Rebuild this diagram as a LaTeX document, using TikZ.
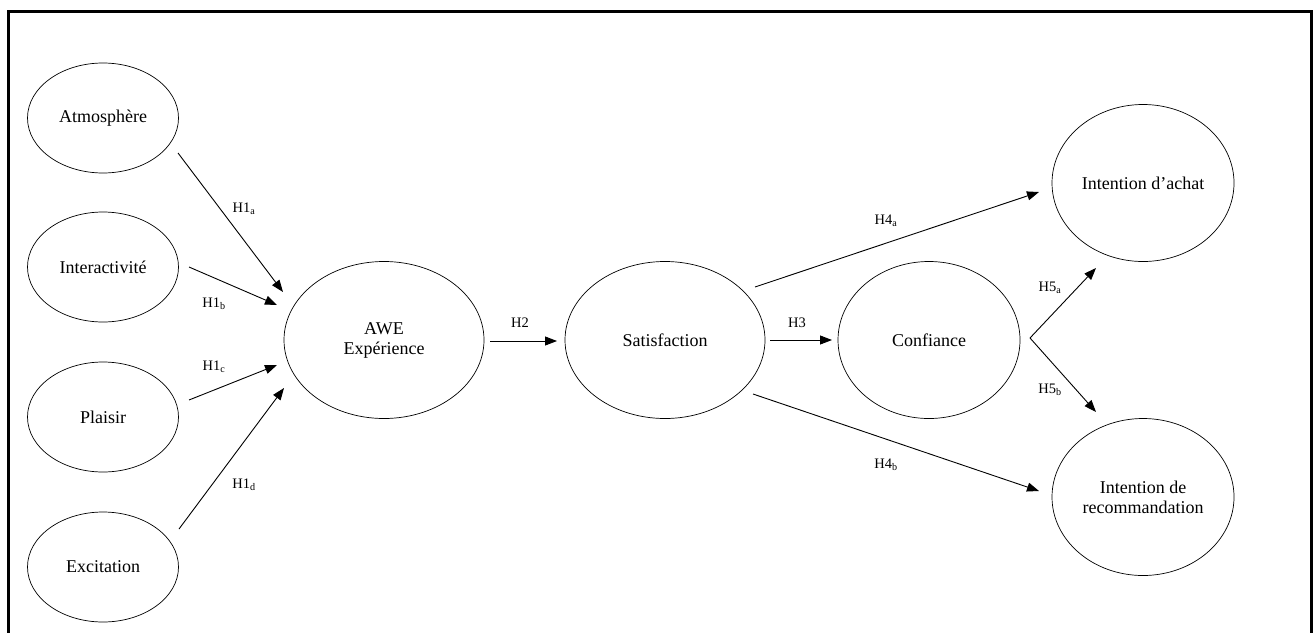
\documentclass[tikz,border=0pt]{standalone}
\usepackage{fontspec}
\setmainfont{Liberation Serif}
\usetikzlibrary{shapes.geometric,arrows.meta}
\tikzset{
  construct/.style={ellipse,draw,line width=0.7pt,inner sep=0pt,minimum width=151pt,minimum height=110pt,align=center,font=\fontsize{18}{20}\selectfont},
  bigconstruct/.style={construct,minimum width=200pt,minimum height=157pt},
  outconstruct/.style={construct,minimum width=182pt,minimum height=157pt},
  link/.style={line width=0.9pt,-{Triangle[length=12pt,width=9pt]}},
  hyp/.style={font=\fontsize{14.5}{16}\selectfont,inner sep=0pt}
}
\begin{document}
\begin{tikzpicture}[x=1pt,y=-1pt]
\clip (0,0) rectangle (1313,632);
\fill[white] (0,0) rectangle (1313,632);
\draw[line width=3pt] (8,11) rectangle (1311,660);
% nodes
\node[construct] (atmo) at (103,118) {Atmosphère};
\node[construct] (inter) at (103,267) {Interactivité};
\node[construct] (plai) at (103,417) {Plaisir};
\node[construct] (exci) at (103,567) {Excitation};
\node[bigconstruct] (awe) at (384,340) {AWE\\Expérience};
\node[bigconstruct] (sati) at (665,340) {Satisfaction};
\node[outconstruct] (conf) at (929,340) {Confiance};
\node[outconstruct] (achat) at (1143,183) {Intention d’achat};
\node[outconstruct] (reco) at (1143,497) {Intention de\\recommandation};
% connector ends
\coordinate (h1as) at (178,153);
\coordinate (h1ae) at (283,292);
\coordinate (h1bs) at (189,267);
\coordinate (h1be) at (277,305);
\coordinate (h1cs) at (189,400);
\coordinate (h1ce) at (277,365);
\coordinate (h1ds) at (179,529);
\coordinate (h1de) at (284,388);
\coordinate (h2s) at (490,341);
\coordinate (h2e) at (557,341);
\coordinate (h3s) at (770,340);
\coordinate (h3e) at (832,340);
\coordinate (h4as) at (755,287);
\coordinate (h4ae) at (1039,192);
\coordinate (h4bs) at (753,394);
\coordinate (h4be) at (1039,491);
\coordinate (h5s) at (1030,338);
\coordinate (h5ae) at (1096,268);
\coordinate (h5be) at (1096,412);
% connectors
\draw[link] (h1as) -- (h1ae);
\draw[link] (h1bs) -- (h1be);
\draw[link] (h1cs) -- (h1ce);
\draw[link] (h1ds) -- (h1de);
\draw[link] (h2s) -- (h2e);
\draw[link] (h3s) -- (h3e);
\draw[link] (h4as) -- (h4ae);
\draw[link] (h4bs) -- (h4be);
\draw[link] (h5s) -- (h5ae);
\draw[link] (h5s) -- (h5be);
% labels
\node[hyp] (l1a) at (244,209) {H1\textsubscript{a}};
\node[hyp] (l1b) at (214,304) {H1\textsubscript{b}};
\node[hyp] (l1c) at (214,367) {H1\textsubscript{c}};
\node[hyp] (l1d) at (244,485) {H1\textsubscript{d}};
\node[hyp] (l2) at (520,323) {H2};
\node[hyp] (l3) at (797,323) {H3};
\node[hyp] (l4a) at (886,221) {H4\textsubscript{a}};
\node[hyp] (l4b) at (886,465) {H4\textsubscript{b}};
\node[hyp] (l5a) at (1050,288) {H5\textsubscript{a}};
\node[hyp] (l5b) at (1050,390) {H5\textsubscript{b}};
\end{tikzpicture}
\end{document}
